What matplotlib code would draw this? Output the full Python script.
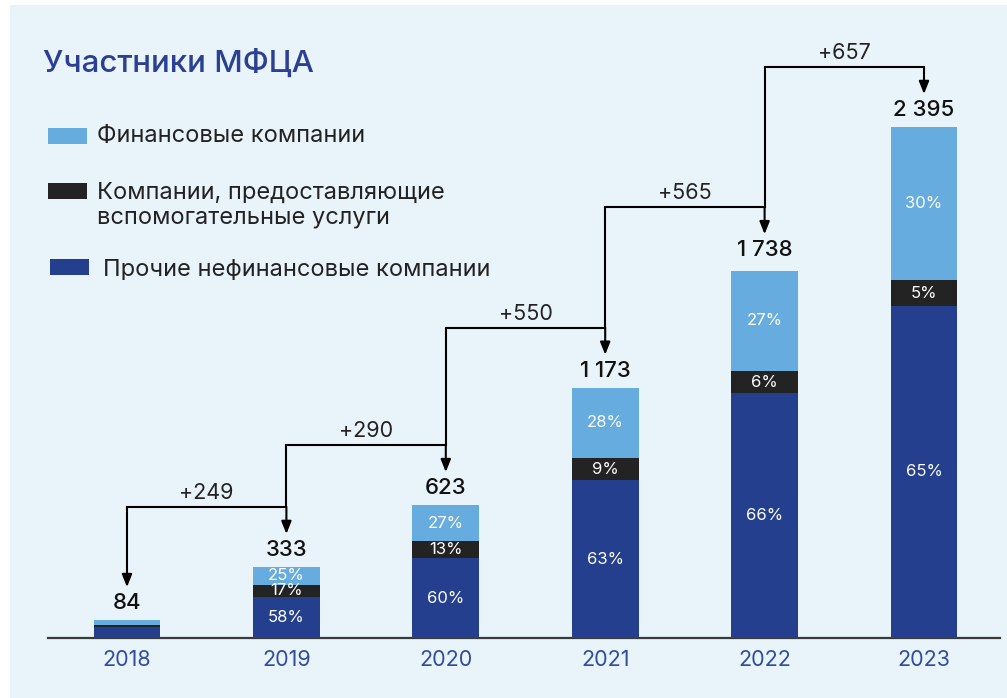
import matplotlib.pyplot as plt
from matplotlib.patches import Rectangle

plt.rcParams['font.family'] = ['Inter', 'DejaVu Sans']

# data
years = ['2018', '2019', '2020', '2021', '2022', '2023']
totals = [84, 333, 623, 1173, 1738, 2395]
other_pct = [64, 58, 60, 63, 66, 65]   # Прочие нефинансовые
aux_pct = [9, 17, 13, 9, 6, 5]          # вспомогательные услуги
fin_pct = [27, 25, 27, 28, 27, 30]      # Финансовые
growth = ['+249', '+290', '+550', '+565', '+657']
show_pct = [False, True, True, True, True, True]

c_fin = '#66ACDE'
c_aux = '#232323'
c_oth = '#243F8E'
c_bg = '#E9F3FA'
c_year = '#2F4C9F'

W, H = 1007, 698
fig = plt.figure(figsize=(W / 100, H / 100), dpi=100)
fig.patch.set_facecolor('white')
fig.patches.append(Rectangle((10 / W, 0), 1, 1 - 5 / H, transform=fig.transFigure,
                             facecolor=c_bg, edgecolor='none', zorder=-10))

scale = 511 / 2395  # px per unit
ax_left, ax_right = 48, 1000
base_y, top_y = 638, 30
ax = fig.add_axes([ax_left / W, 1 - base_y / H, (ax_right - ax_left) / W, (base_y - top_y) / H])
ax.set_facecolor('none')
x0, step = 127, 159.4
ax.set_xlim((ax_left - x0) / step, (ax_right - x0) / step)
ax.set_ylim(0, (base_y - top_y) / scale)
for s in ['top', 'right', 'left']:
    ax.spines[s].set_visible(False)
ax.spines['bottom'].set_color('#3a3a3a')
ax.spines['bottom'].set_linewidth(1.6)
ax.set_yticks([])
xs = list(range(len(years)))
ax.set_xticks(xs)
ax.set_xticklabels(years, fontsize=15.5, color=c_year)
ax.tick_params(axis='x', length=0, pad=9)

oth = [t * p / 100 for t, p in zip(totals, other_pct)]
aux = [t * p / 100 for t, p in zip(totals, aux_pct)]
fin = [t * p / 100 for t, p in zip(totals, fin_pct)]
bw = 0.42
ax.bar(xs, oth, bw, color=c_oth, zorder=3)
ax.bar(xs, aux, bw, bottom=oth, color=c_aux, zorder=3)
ax.bar(xs, fin, bw, bottom=[a + b for a, b in zip(oth, aux)], color=c_fin, zorder=3)

for i in xs:
    if show_pct[i]:
        ax.text(i, oth[i] / 2, f'{other_pct[i]}%', ha='center', va='center', color='white', fontsize=12, zorder=4)
        ax.text(i, oth[i] + aux[i] / 2, f'{aux_pct[i]}%', ha='center', va='center', color='white', fontsize=12, zorder=4)
        ax.text(i, oth[i] + aux[i] + fin[i] / 2, f'{fin_pct[i]}%', ha='center', va='center', color='white', fontsize=12, zorder=4)
    lbl = f'{totals[i]:,}'.replace(',', ' ')
    ax.text(i, totals[i] + 7 / scale, lbl, ha='center', va='bottom', fontsize=16,
            fontweight='medium', color='#111111', zorder=4)

# growth brackets
tip_off = 33 / scale
br_off = 60 / scale
arrow = dict(arrowstyle='-|>,head_length=0.75,head_width=0.3', color='black', lw=1.5, shrinkA=0, shrinkB=0)
for k in range(len(growth)):
    a, b = k, k + 1
    yb = totals[b] + br_off
    if k == 0:
        ax.annotate('', xy=(a, totals[a] + tip_off), xytext=(a, yb), arrowprops=arrow)
    else:
        ax.plot([a, a], [totals[a] + br_off, yb], color='black', lw=1.5, solid_capstyle='butt')
    ax.plot([a, b], [yb, yb], color='black', lw=1.5, solid_capstyle='projecting')
    ax.annotate('', xy=(b, totals[b] + tip_off), xytext=(b, yb), arrowprops=arrow)
    ax.text((a + b) / 2, yb + 4 / scale, growth[k], ha='center', va='bottom', fontsize=15.5, color='#222222')

# title and legend
fig.text(43 / W, 1 - 63 / H, 'Участники МФЦА', fontsize=22.5, fontweight='medium', color='#2B3F93', va='center')
legend_items = [
    (c_fin, 48, 128, 97, 136, 'Финансовые компании'),
    (c_aux, 48, 183, 97, 205, 'Компании, предоставляющие\nвспомогательные услуги'),
    (c_oth, 50, 259, 103, 270, 'Прочие нефинансовые компании'),
]
for col, px, py, tx, ty, txt in legend_items:
    fig.patches.append(Rectangle((px / W, 1 - (py + 16) / H), 39 / W, 16 / H, transform=fig.transFigure,
                                 facecolor=col, edgecolor='none'))
    fig.text(tx / W, 1 - ty / H, txt, fontsize=17, color='#222222', va='center', linespacing=1.12)

fig.savefig('out.png', dpi=100)
